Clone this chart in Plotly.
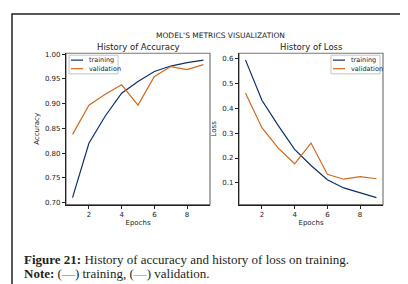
import plotly.graph_objects as go

epochs = [1, 2, 3, 4, 5, 6, 7, 8, 9]
acc_train = [0.710, 0.820, 0.875, 0.921, 0.945, 0.965, 0.976, 0.983, 0.988]
acc_val = [0.838, 0.897, 0.919, 0.938, 0.897, 0.955, 0.975, 0.969, 0.979]
loss_train = [0.593, 0.432, 0.330, 0.235, 0.170, 0.113, 0.080, 0.060, 0.041]
loss_val = [0.460, 0.322, 0.240, 0.177, 0.260, 0.135, 0.115, 0.125, 0.117]
series_names = ["training", "validation"]
acc_ticks = [0.70, 0.75, 0.80, 0.85, 0.90, 0.95, 1.00]
loss_ticks = [0.1, 0.2, 0.3, 0.4, 0.5, 0.6]
x_ticks = [2, 4, 6, 8]

W, H = 408, 284
C_TRAIN = "#0d2f6b"
C_VAL = "#d2691e"
SANS = "DejaVu Sans"
SERIF = "Liberation Serif"

def px_x(p):
    return p / W

def px_y(p):
    return 1 - p / H

fig = go.Figure()
fig.add_trace(go.Scatter(x=epochs, y=acc_train, mode="lines", line=dict(color=C_TRAIN, width=1.2),
                         xaxis="x", yaxis="y", showlegend=False))
fig.add_trace(go.Scatter(x=epochs, y=acc_val, mode="lines", line=dict(color=C_VAL, width=1.2),
                         xaxis="x", yaxis="y", showlegend=False))
fig.add_trace(go.Scatter(x=epochs, y=loss_train, mode="lines", line=dict(color=C_TRAIN, width=1.2),
                         xaxis="x2", yaxis="y2", showlegend=False))
fig.add_trace(go.Scatter(x=epochs, y=loss_val, mode="lines", line=dict(color=C_VAL, width=1.2),
                         xaxis="x2", yaxis="y2", showlegend=False))

ax_common = dict(showgrid=False, zeroline=False, showline=True, linecolor="#222", linewidth=1.2,
                 ticks="outside", ticklen=3, tickwidth=1, tickcolor="#222",
                 tickfont=dict(family=SANS, size=7, color="#222"))

yd = [px_y(197), px_y(43)]
fig.update_layout(
    width=W, height=H, margin=dict(l=0, r=0, t=0, b=0),
    paper_bgcolor="white", plot_bgcolor="white", showlegend=False,
    xaxis=dict(domain=[px_x(58), px_x(202)], range=[0.6, 9.4], tickvals=x_ticks, anchor="y",
               title=dict(text="Epochs", font=dict(family=SANS, size=7, color="#222"), standoff=2), **ax_common),
    yaxis=dict(domain=yd, range=[0.6961, 1.0019], tickvals=acc_ticks, tickformat=".2f", anchor="x",
               title=dict(text="Accuracy", font=dict(family=SANS, size=7, color="#222"), standoff=4), **ax_common),
    xaxis2=dict(domain=[px_x(231), px_x(375)], range=[0.6, 9.4], tickvals=x_ticks, anchor="y2",
                title=dict(text="Epochs", font=dict(family=SANS, size=7, color="#222"), standoff=2), **ax_common),
    yaxis2=dict(domain=yd, range=[0.0134, 0.6206], tickvals=loss_ticks, tickformat=".1f", anchor="x2",
                title=dict(text="Loss", font=dict(family=SANS, size=7, color="#222"), standoff=4), **ax_common),
)

shapes = []
annotations = []
# outer border
shapes.append(dict(type="rect", xref="paper", yref="paper", x0=px_x(4), x1=px_x(400), y0=px_y(282), y1=px_y(3),
                   line=dict(color="#222", width=1.5)))
# top/right spines (gray)
for xr, yr in [("x", "y"), ("x2", "y2")]:
    shapes.append(dict(type="rect", xref=f"{xr} domain", yref=f"{yr} domain", x0=0, x1=1, y0=0, y1=1,
                       line=dict(color="#777", width=1.2), layer="below"))

# legends (drawn in axis-domain coordinates)
def add_legend(xr, yr, dom_left, box_l, box_r):
    dw, dh, dt = 144.0, 154.0, 43.0
    fx = lambda p: (p - dom_left) / dw
    fy = lambda p: 1 - (p - dt) / dh
    shapes.append(dict(type="rect", xref=f"{xr} domain", yref=f"{yr} domain",
                       x0=fx(box_l), x1=fx(box_r), y0=fy(64), y1=fy(45),
                       line=dict(color="#c4c4c4", width=1), fillcolor="white"))
    for name, col, yy in [(series_names[0], C_TRAIN, 50.0), (series_names[1], C_VAL, 58.7)]:
        shapes.append(dict(type="line", xref=f"{xr} domain", yref=f"{yr} domain",
                           x0=fx(box_l + 2), x1=fx(box_l + 14), y0=fy(yy), y1=fy(yy),
                           line=dict(color=col, width=1.2)))
        annotations.append(dict(xref=f"{xr} domain", yref=f"{yr} domain", x=fx(box_l + 18), y=fy(yy),
                                xanchor="left", yanchor="middle", showarrow=False, text=name,
                                font=dict(family=SANS, size=6.5, color="#222")))

add_legend("x", "y", 58, 61, 110)
add_legend("x2", "y2", 231, 323, 372)

# titles
annotations.append(dict(xref="paper", yref="paper", x=px_x(212), y=px_y(25), xanchor="center", yanchor="middle",
                        showarrow=False, text="MODEL'S METRICS VISUALIZATION",
                        font=dict(family=SANS, size=7.5, color="#222")))
for xr, yr, t in [("x", "y", "History of Accuracy"), ("x2", "y2", "History of Loss")]:
    annotations.append(dict(xref=f"{xr} domain", yref="paper", x=0.5, y=px_y(37), xanchor="center",
                            yanchor="middle", showarrow=False, text=t,
                            font=dict(family=SANS, size=8.5, color="#222")))

# caption
annotations.append(dict(xref="paper", yref="paper", x=px_x(14), y=px_y(253), xanchor="left", yanchor="middle",
                        showarrow=False,
                        text="<b>Figure 21:</b> History of accuracy and history of loss on training.",
                        font=dict(family=SERIF, size=13, color="#231f20")))
annotations.append(dict(xref="paper", yref="paper", x=px_x(14), y=px_y(267), xanchor="left", yanchor="middle",
                        showarrow=False,
                        text=f"<b>Note:</b> (<span style='color:#3b6fb6'>—</span>) training, "
                             f"(<span style='color:{C_VAL}'>—</span>) validation.",
                        font=dict(family=SERIF, size=13, color="#231f20")))

fig.update_layout(shapes=shapes, annotations=annotations)
fig.write_html("out.html")
